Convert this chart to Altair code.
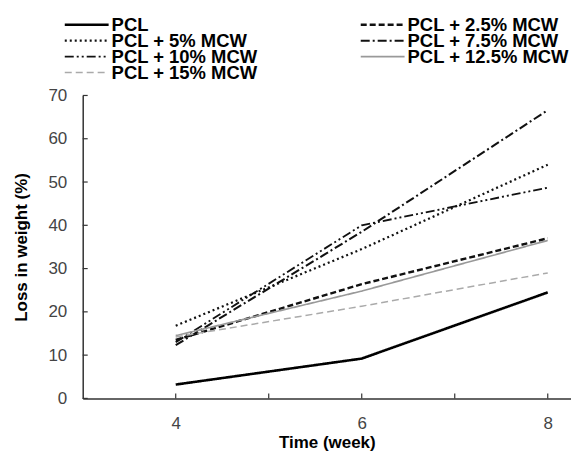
import altair as alt
import pandas as pd

series = ["PCL", "PCL + 2.5% MCW", "PCL + 5% MCW", "PCL + 7.5% MCW",
          "PCL + 10% MCW", "PCL + 12.5% MCW", "PCL + 15% MCW"]
weeks = [4, 6, 8]
pcl = [3.2, 9.2, 24.5]
mcw2_5 = [13.5, 26.4, 37.0]
mcw5 = [16.8, 34.5, 54.0]
mcw7_5 = [12.3, 38.5, 66.6]
mcw10 = [13.0, 40.0, 48.7]
mcw12_5 = [14.5, 24.8, 36.5]
mcw15 = [14.2, 21.3, 29.0]

# legend grid (row-major, two columns)
legend_col = [0, 1, 0, 1, 0, 1, 0]
legend_row = [0, 0, 1, 1, 2, 2, 3]

x_ticks = [4, 5, 6, 7, 8]
y_ticks = [0, 10, 20, 30, 40, 50, 60, 70]

colors = ["#000000", "#111111", "#111111", "#111111", "#111111", "#999999", "#aaaaaa"]
dashes = [[1, 0], [6, 3], [2, 3], [9, 3, 2, 3], [9, 3, 2, 3, 2, 3], [1, 0], [7, 4]]
widths = [2.6, 1.5, 1.5, 1.6, 1.6, 2.0, 1.5]

rows = []
for name, vals in zip(series, [pcl, mcw2_5, mcw5, mcw7_5, mcw10, mcw12_5, mcw15]):
    for w, v in zip(weeks, vals):
        rows.append({"series": name, "week": w, "loss": v})
df = pd.DataFrame(rows)
legdf = pd.DataFrame({"series": series, "col": legend_col, "row": legend_row})

W, H = 490, 304
FONT = "Liberation Sans"

xscale = alt.Scale(domain=[3, 8.25], nice=False, zero=False)
yscale = alt.Scale(domain=[0, 70], nice=False)
cscale = alt.Scale(domain=series, range=colors)
dscale = alt.Scale(domain=series, range=dashes)
wscale = alt.Scale(domain=series, range=widths)

xaxis = alt.Axis(values=x_ticks, ticks=False, grid=False,
                 labelExpr="datum.value % 2 == 0 ? datum.label : ''",
                 title="Time (week)")
yaxis = alt.Axis(values=y_ticks, ticks=False, grid=False,
                 title="Loss in weight (%)")

style_enc = dict(
    color=alt.Color("series:N", scale=cscale, legend=None),
    strokeDash=alt.StrokeDash("series:N", scale=dscale, legend=None),
    strokeWidth=alt.StrokeWidth("series:N", scale=wscale, legend=None),
)

lines = alt.Chart(df).mark_line().encode(
    x=alt.X("week:Q", scale=xscale, axis=xaxis),
    y=alt.Y("loss:Q", scale=yscale, axis=yaxis),
    detail="series:N",
    **style_enc,
)

xt = alt.Chart(pd.DataFrame({"week": x_ticks})).mark_rule(color="#333", strokeWidth=1.2).encode(
    x=alt.X("week:Q", scale=xscale, axis=xaxis),
    y=alt.value(H), y2=alt.value(H - 5),
)
yt = alt.Chart(pd.DataFrame({"loss": y_ticks})).mark_rule(color="#333", strokeWidth=1.2).encode(
    y=alt.Y("loss:Q", scale=yscale, axis=yaxis),
    x=alt.value(0), x2=alt.value(5),
)

main = alt.layer(lines, xt, yt)

lx = alt.X("col:Q", scale=alt.Scale(domain=[0, 1], range=[26, 323]), axis=None)
ly = alt.Y("row:Q", scale=alt.Scale(domain=[0, 3], range=[-71, -23]), axis=None)

leg_sym = alt.Chart(legdf).mark_point(
    shape="M-4,0H0", size=484, filled=False, opacity=1
).encode(x=lx, y=ly, **style_enc)

leg_txt = alt.Chart(legdf).mark_text(
    align="left", baseline="middle", dx=3, font=FONT, fontSize=18.5,
    fontWeight="bold", color="#000"
).encode(x=lx, y=ly, text="series:N")

legend = alt.layer(leg_sym, leg_txt)

chart = alt.layer(main, legend).resolve_scale(
    x="independent", y="independent"
).properties(
    width=W, height=H,
    autosize=alt.AutoSizeParams(type="none"),
    padding={"left": 83, "top": 95, "right": 0, "bottom": 60},
).configure_view(stroke=None).configure_axis(
    domainColor="#333", domainWidth=1.5,
    labelFont=FONT, labelFontSize=17, labelColor="#444",
    titleFont=FONT, titleFontSize=17, titleFontWeight="bold", titleColor="#000",
).configure_axisX(labelPadding=17, titlePadding=3).configure_axisY(
    labelPadding=16, titlePadding=17)

chart.save("out.html", embed_options={"renderer": "svg", "actions": False})
